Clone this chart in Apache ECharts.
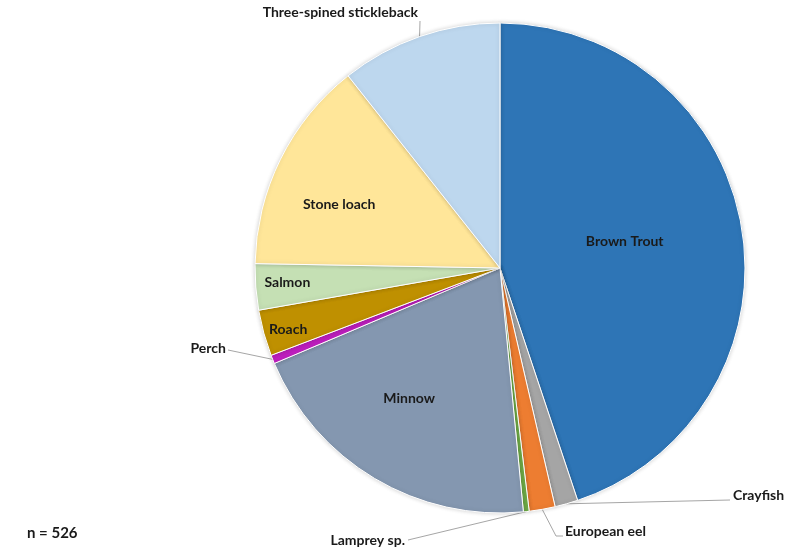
<!DOCTYPE html>
<html>
<head>
<meta charset="utf-8">
<script src="https://cdn.jsdelivr.net/npm/echarts@6/dist/echarts.min.js"></script>
<style>
  html, body { margin: 0; padding: 0; background: #fff; }
  #chart { width: 785px; height: 551px; }
</style>
</head>
<body>
<div id="chart"></div>
<script>
// Species composition of the catch (number of fish)
const categories = ['Brown Trout', 'Crayfish', 'European eel', 'Lamprey sp.', 'Minnow',
  'Perch', 'Roach', 'Salmon', 'Stone loach', 'Three-spined stickleback'];
const counts = [236, 8, 9, 2, 106, 3, 16, 16, 74, 56];
const sampleNote = 'n = 526';

const colors = ['#2E75B6', '#A5A5A5', '#ED7D31', '#70AD47', '#8497B0',
  '#BF1FBF', '#BF9000', '#C5E0B4', '#FFE699', '#BDD7EE'];

const CX = 500, CY = 268, R = 245;

// Labels drawn inside a slice: polar placement [angle in degrees clockwise from 12 o'clock, fraction of radius]
const insidePolar = {
  'Brown Trout': [78.2, 0.52],
  'Minnow': [214.8, 0.65],
  'Stone loach': [291.4, 0.705],
  'Salmon': [266.0, 0.87],
  'Roach': [253.9, 0.90]
};
// Labels drawn outside with a leader line: text anchor, alignment and leader bend points
const outsideLayout = {
  'Crayfish': { x: 733, y: 495, align: 'left', bend: [[730, 500]] },
  'European eel': { x: 565, y: 531, align: 'left', bend: [[556, 536], [563, 536]] },
  'Lamprey sp.': { x: 405, y: 540, align: 'right', bend: [[408, 540]] },
  'Perch': { x: 226, y: 348, align: 'right', bend: [[228, 350]] },
  'Three-spined stickleback': { x: 418, y: 12, align: 'right', bend: [[420, 21]] }
};

const total = counts.reduce((a, b) => a + b, 0);
const midAngles = [];
let acc = 0;
counts.forEach(v => { midAngles.push((acc + v / 2) / total * 2 * Math.PI); acc += v; });

const data = categories.map((name, i) => {
  const inside = name in insidePolar;
  return {
    name: name,
    value: counts[i],
    itemStyle: { color: colors[i] },
    label: { position: inside ? 'inside' : 'outside' },
    labelLine: { show: !inside }
  };
});

const chart = echarts.init(document.getElementById('chart'), null, { renderer: 'canvas' });
chart.setOption({
  animation: false,
  backgroundColor: '#ffffff',
  series: [{
    type: 'pie',
    center: [CX, CY],
    radius: [0, R],
    startAngle: 90,
    clockwise: true,
    avoidLabelOverlap: false,
    data: data,
    itemStyle: {
      borderColor: '#ffffff',
      borderWidth: 1,
      shadowBlur: 4,
      shadowColor: 'rgba(0,0,0,0.18)'
    },
    label: {
      show: true,
      formatter: '{b}',
      fontFamily: 'Lato',
      fontWeight: 'bold',
      fontSize: 14,
      color: '#1a1a1a'
    },
    labelLine: {
      lineStyle: { color: '#A6A6A6', width: 1 },
      length: 10,
      length2: 10
    },
    labelLayout: function (params) {
      const name = categories[params.dataIndex];
      if (name in insidePolar) {
        const p = insidePolar[name];
        const a = p[0] * Math.PI / 180;
        const f = p[1] * R;
        return {
          x: CX + f * Math.sin(a),
          y: CY - f * Math.cos(a),
          align: 'center',
          verticalAlign: 'middle'
        };
      }
      const o = outsideLayout[name];
      const a = midAngles[params.dataIndex];
      const edge = [CX + R * Math.sin(a), CY - R * Math.cos(a)];
      const pts = [edge].concat(o.bend);
      while (pts.length < 3) pts.push(pts[pts.length - 1]);
      return {
        x: o.x,
        y: o.y,
        align: o.align,
        verticalAlign: 'middle',
        labelLinePoints: pts
      };
    }
  }],
  graphic: [{
    type: 'text',
    left: 27,
    top: 526,
    style: {
      text: sampleNote,
      fontFamily: 'Lato',
      fontWeight: 'bold',
      fontSize: 15,
      fill: '#1a1a1a'
    }
  }]
});
</script>
</body>
</html>
